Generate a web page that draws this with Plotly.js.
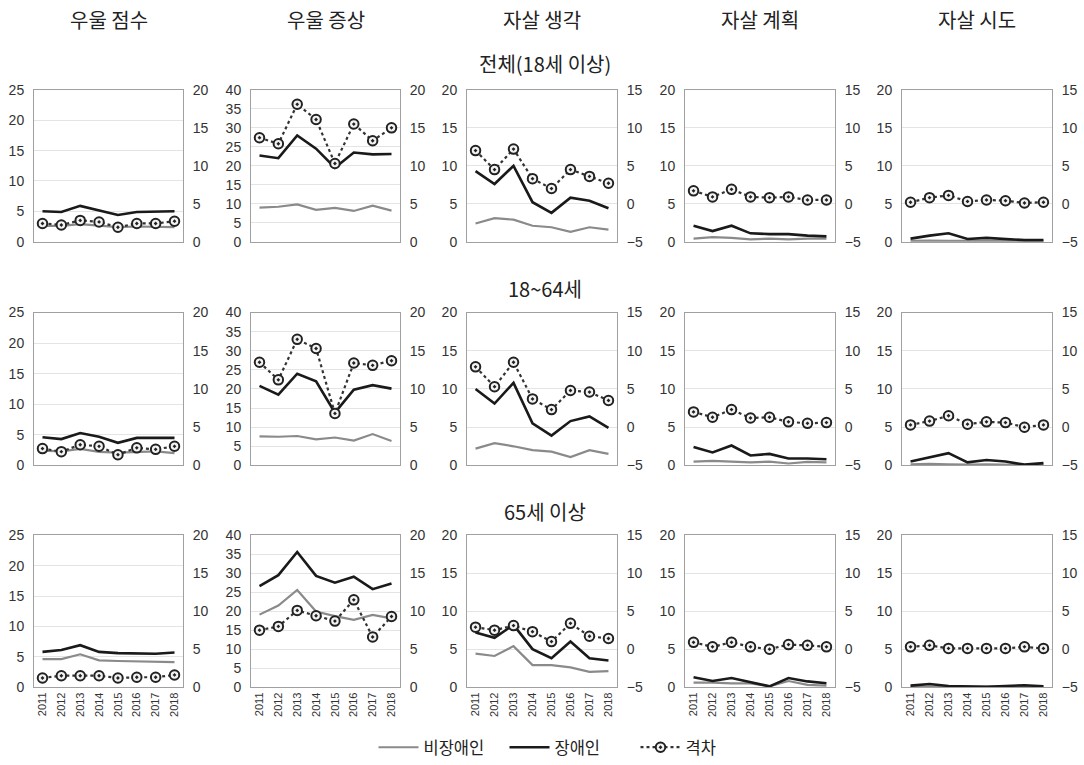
<!DOCTYPE html>
<html><head><meta charset="utf-8">
<script src="https://cdn.plot.ly/plotly-3.0.1.min.js"></script>
<style>html,body{margin:0;padding:0;background:#fff}#chart{width:1084px;height:765px}</style>
</head><body><div id="chart"></div>
<script>
const years = ['2011','2012','2013','2014','2015','2016','2017','2018'];
const columnTitles = ['우울 점수','우울 증상','자살 생각','자살 계획','자살 시도'];
const rowTitles = ['전체(18세 이상)','18~64세','65세 이상'];
const seriesNames = ['비장애인','장애인','격차'];

// 전체(18세 이상): one list per column
const nonDisabledAll = [
  [2.6,2.6,2.9,2.6,2.4,2.5,2.5,2.4],
  [9.0,9.2,9.8,8.4,8.9,8.1,9.5,8.2],
  [2.4,3.1,2.9,2.1,1.9,1.3,1.9,1.6],
  [0.4,0.6,0.5,0.3,0.4,0.3,0.4,0.4],
  [0.1,0.15,0.1,0.1,0.1,0.1,0.05,0.1]
];
const disabledAll = [
  [5.0,4.9,5.9,5.1,4.4,4.9,4.9,5.0],
  [22.7,22.0,28.0,24.5,19.5,23.5,23.0,23.1],
  [9.3,7.6,10.0,5.2,3.8,5.8,5.4,4.4],
  [2.1,1.4,2.1,1.1,1.0,1.0,0.8,0.7],
  [0.4,0.8,1.1,0.35,0.5,0.4,0.2,0.2]
];
const gapAll = [
  [2.4,2.2,2.8,2.6,1.9,2.4,2.4,2.7],
  [13.7,12.9,18.1,16.1,10.3,15.5,13.3,15.0],
  [7.0,4.5,7.2,3.3,2.0,4.5,3.6,2.7],
  [1.7,0.9,1.9,0.9,0.8,0.9,0.5,0.5],
  [0.2,0.8,1.1,0.3,0.5,0.4,0.1,0.2]
];

// 18~64세
const nonDisabledAdult = [
  [2.4,2.3,2.7,2.2,2.1,2.2,2.3,2.0],
  [7.6,7.5,7.7,6.8,7.3,6.5,8.2,6.4],
  [2.2,2.9,2.5,2.0,1.8,1.1,2.0,1.5],
  [0.5,0.6,0.5,0.4,0.5,0.25,0.45,0.4],
  [0.15,0.2,0.15,0.1,0.15,0.1,0.05,0.1]
];
const disabledAdult = [
  [4.6,4.3,5.3,4.7,3.7,4.5,4.5,4.5],
  [20.8,18.5,24.0,22.0,13.8,19.8,21.0,20.1],
  [10.0,8.1,10.8,5.5,3.9,5.8,6.4,4.9],
  [2.4,1.7,2.6,1.3,1.5,0.9,0.9,0.8],
  [0.5,1.0,1.6,0.4,0.7,0.5,0.1,0.3]
];
const gapAdult = [
  [2.2,1.8,2.7,2.5,1.4,2.3,2.1,2.5],
  [13.5,11.2,16.5,15.3,6.8,13.4,13.1,13.7],
  [7.9,5.3,8.5,3.7,2.3,4.8,4.6,3.5],
  [2.0,1.3,2.3,1.2,1.3,0.7,0.5,0.6],
  [0.3,0.8,1.5,0.4,0.7,0.6,0.0,0.3]
];

// 65세 이상
const nonDisabledElder = [
  [4.6,4.6,5.4,4.4,4.3,4.2,4.2,4.1],
  [19.1,21.5,25.6,19.9,18.7,17.7,19.0,18.1],
  [4.4,4.1,5.4,2.9,2.9,2.6,2.0,2.1],
  [0.6,0.6,0.5,0.5,0.1,0.8,0.3,0.2],
  [0.05,0.05,0.05,0.05,0.05,0.05,0.05,0.05]
];
const disabledElder = [
  [5.8,6.1,6.9,5.8,5.6,5.5,5.5,5.7],
  [26.6,29.5,35.6,29.3,27.5,29.1,25.8,27.3],
  [7.2,6.5,8.2,5.0,3.8,6.0,3.8,3.5],
  [1.3,0.8,1.2,0.6,0.1,1.2,0.75,0.5],
  [0.2,0.4,0.15,0.1,0.05,0.15,0.25,0.1]
];
const gapElder = [
  [1.2,1.5,1.5,1.5,1.2,1.3,1.3,1.6],
  [7.5,8.0,10.1,9.4,8.7,11.5,6.6,9.3],
  [2.9,2.5,3.1,2.3,1.0,3.4,1.7,1.4],
  [0.9,0.3,0.9,0.3,0.0,0.6,0.5,0.3],
  [0.3,0.5,0.1,0.1,0.1,0.1,0.3,0.1]
];

const leftRanges = [[0,25],[0,40],[0,20],[0,20],[0,20]];
const leftDtick = [5,5,5,5,5];
const rightRanges = [[0,20],[0,20],[-5,15],[-5,15],[-5,15]];
const rightDtick = [5,5,5,5,5];

const rowsNon = [nonDisabledAll, nonDisabledAdult, nonDisabledElder];
const rowsDis = [disabledAll, disabledAdult, disabledElder];
const rowsGap = [gapAll, gapAdult, gapElder];

const W = 1084, H = 765;
const colPx = [[34,183],[251,400],[467,617],[685,835],[902,1052]];
const rowPx = [[90,242],[313,466],[536,688]];

const tickFont = {family:'Liberation Sans, Arial, sans-serif', size:14, color:'#333'};
const data = [];
const layout = {
  width:W, height:H, margin:{l:0,r:0,t:0,b:0},
  paper_bgcolor:'#fff', plot_bgcolor:'#fff',
  showlegend:true,
  legend:{orientation:'h', x:570/W, xanchor:'center', y:1-748/H, yanchor:'middle',
    font:{family:'Noto Sans CJK KR, sans-serif', size:16.5, color:'#222'}, itemwidth:40,
    entrywidth:76, tracegroupgap:0},
  annotations:[]
};

for (let r=0;r<3;r++){
  for (let c=0;c<5;c++){
    const k = r*5+c;
    const xn = k+1;
    const yl = 2*k+1, yr = 2*k+2;
    const xName = xn===1?'x':'x'+xn;
    const ylName = yl===1?'y':'y'+yl;
    const yrName = 'y'+yr;
    const xKey = xn===1?'xaxis':'xaxis'+xn;
    const ylKey = yl===1?'yaxis':'yaxis'+yl;
    const yrKey = 'yaxis'+yr;
    const first = (k===0);
    data.push({x:years, y:rowsNon[r][c], xaxis:xName, yaxis:ylName, type:'scatter', mode:'lines',
      name:seriesNames[0], showlegend:first, legendgroup:'a',
      line:{color:'#8a8a8a', width:2.2}, hoverinfo:'skip'});
    data.push({x:years, y:rowsDis[r][c], xaxis:xName, yaxis:ylName, type:'scatter', mode:'lines',
      name:seriesNames[1], showlegend:first, legendgroup:'b',
      line:{color:'#1a1a1a', width:2.6}, hoverinfo:'skip'});
    data.push({x:years, y:rowsGap[r][c], xaxis:xName, yaxis:yrName, type:'scatter', mode:'lines+markers',
      name:seriesNames[2], showlegend:first, legendgroup:'c',
      line:{color:'#333', width:2.2, dash:'dot'},
      marker:{symbol:'circle-dot', size:9.5, color:'#f2f2f2', line:{color:'#222', width:2}}, hoverinfo:'skip'});

    const x0 = colPx[c][0]/W, x1 = colPx[c][1]/W;
    const y0 = 1-rowPx[r][1]/H, y1 = 1-rowPx[r][0]/H;
    layout[xKey] = {domain:[x0,x1], anchor:ylName, type:'category', range:[-0.45,7.45],
      showline:true, mirror:true, linecolor:'#a0a0a0', linewidth:1, showgrid:false, zeroline:false,
      showticklabels:(r===2), tickangle:-90, ticks:'', tickfont:{family:'Liberation Sans, Arial, sans-serif', size:11, color:'#333'},
      fixedrange:true};
    layout[ylKey] = {domain:[y0,y1], anchor:xName, range:leftRanges[c], dtick:leftDtick[c], tick0:0,
      showline:true, linecolor:'#a0a0a0', linewidth:1, showgrid:true, gridcolor:'#e4e4e4', gridwidth:1,
      zeroline:false, ticks:'outside', ticklen:6, tickcolor:'rgba(0,0,0,0)', tickfont:tickFont, fixedrange:true};
    layout[yrKey] = {domain:[y0,y1], anchor:xName, overlaying:ylName, side:'right',
      range:rightRanges[c], dtick:rightDtick[c], tick0:0,
      showline:true, linecolor:'#a0a0a0', linewidth:1, showgrid:false, zeroline:false,
      ticks:'outside', ticklen:6, tickcolor:'rgba(0,0,0,0)', tickfont:tickFont, fixedrange:true};
  }
}

const colCenters = colPx.map(p => (p[0]+p[1])/2);
columnTitles.forEach((t,i)=>{
  layout.annotations.push({text:t, xref:'paper', yref:'paper', x:colCenters[i]/W, y:1-20/H,
    xanchor:'center', yanchor:'middle', showarrow:false,
    font:{family:'Noto Sans CJK KR, sans-serif', size:20, color:'#222'}});
});
const rowTitleY = [64, 289, 512];
rowTitles.forEach((t,i)=>{
  layout.annotations.push({text:t, xref:'paper', yref:'paper', x:545/W, y:1-rowTitleY[i]/H,
    xanchor:'center', yanchor:'middle', showarrow:false,
    font:{family:'Noto Sans CJK KR, sans-serif', size:20, color:'#222'}});
});

Plotly.newPlot('chart', data, layout, {displayModeBar:false, staticPlot:true});
</script>
</body></html>
